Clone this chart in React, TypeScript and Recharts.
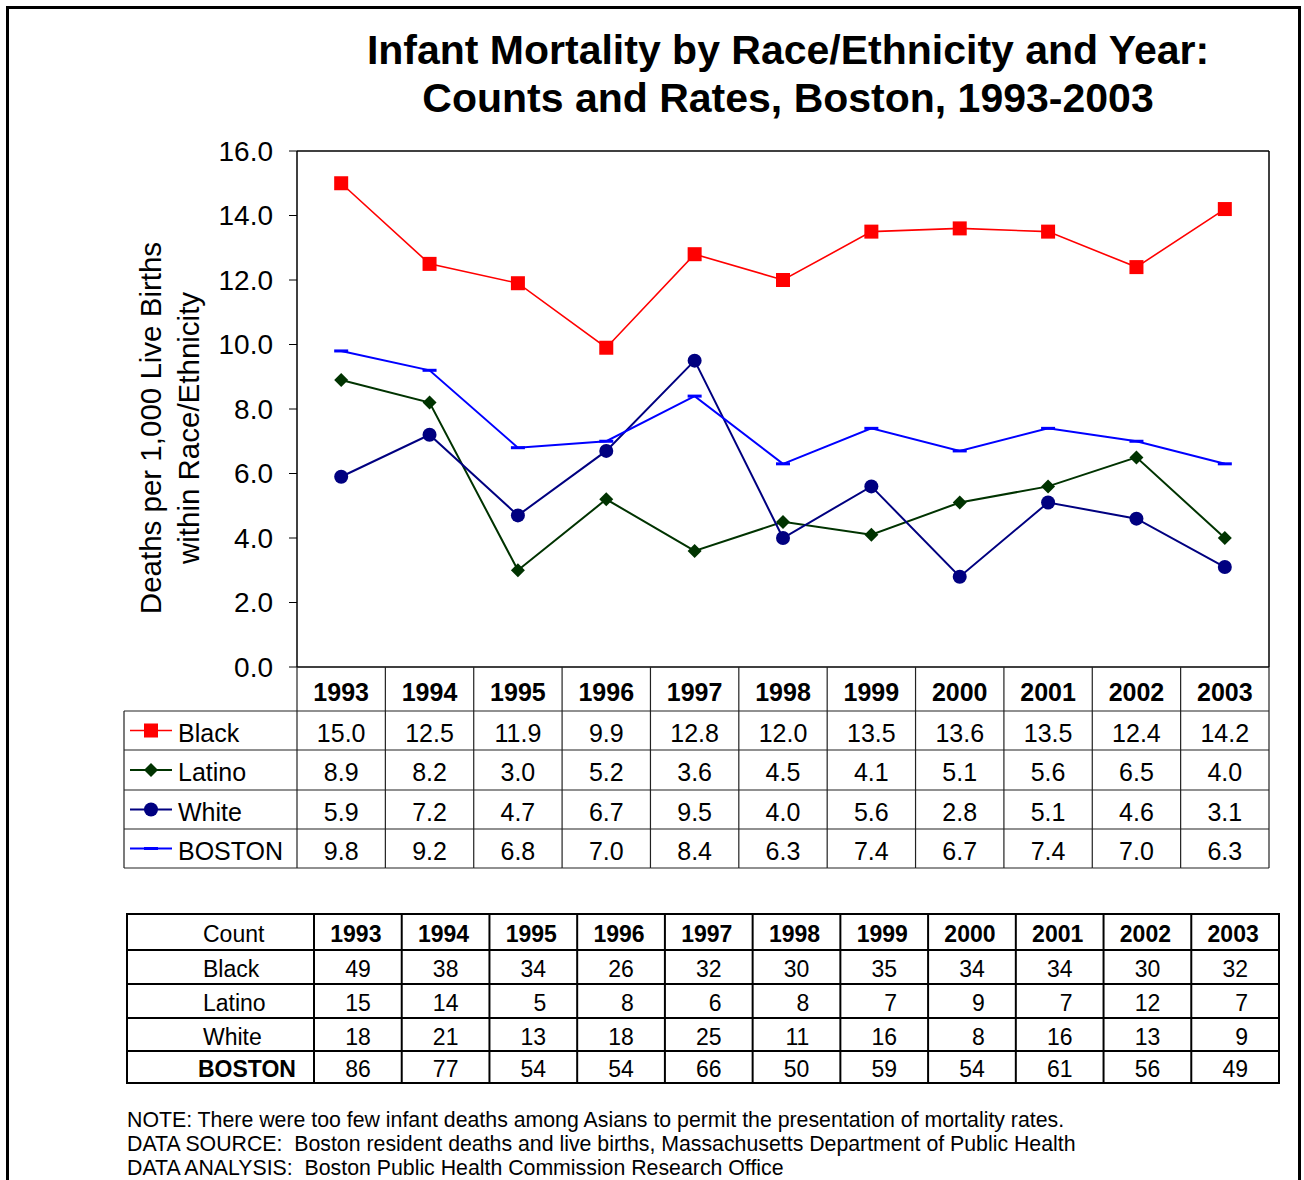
import React from "react"
import { LineChart, Line, XAxis, YAxis } from "recharts"

const years = ["1993", "1994", "1995", "1996", "1997", "1998", "1999", "2000", "2001", "2002", "2003"]
const blackRate = [15.0, 12.5, 11.9, 9.9, 12.8, 12.0, 13.5, 13.6, 13.5, 12.4, 14.2]
const latinoRate = [8.9, 8.2, 3.0, 5.2, 3.6, 4.5, 4.1, 5.1, 5.6, 6.5, 4.0]
const whiteRate = [5.9, 7.2, 4.7, 6.7, 9.5, 4.0, 5.6, 2.8, 5.1, 4.6, 3.1]
const bostonRate = [9.8, 9.2, 6.8, 7.0, 8.4, 6.3, 7.4, 6.7, 7.4, 7.0, 6.3]

const blackCount = [49, 38, 34, 26, 32, 30, 35, 34, 34, 30, 32]
const latinoCount = [15, 14, 5, 8, 6, 8, 7, 9, 7, 12, 7]
const whiteCount = [18, 21, 13, 18, 25, 11, 16, 8, 16, 13, 9]
const bostonCount = [86, 77, 54, 54, 66, 50, 59, 54, 61, 56, 49]

const yTicks = [0, 2, 4, 6, 8, 10, 12, 14, 16]

const notes = [
  "NOTE: There were too few infant deaths among Asians to permit the presentation of mortality rates.",
  "DATA SOURCE:  Boston resident deaths and live births, Massachusetts Department of Public Health",
  "DATA ANALYSIS:  Boston Public Health Commission Research Office",
]

const FONT = "Arial, 'Liberation Sans', Helvetica, sans-serif"

// plot box
const PLOT_L = 297
const PLOT_R = 1269
const PLOT_T = 151
const PLOT_B = 667
const BW = (PLOT_R - PLOT_L) / years.length
const ROWS = [711, 750, 790, 829, 868]

const series = [
  { key: "black", name: "Black", values: blackRate, color: "#FF0000", width: 1.6, shape: "square" },
  { key: "latino", name: "Latino", values: latinoRate, color: "#003300", width: 2, shape: "diamond" },
  { key: "white", name: "White", values: whiteRate, color: "#000080", width: 2, shape: "circle" },
  { key: "boston", name: "BOSTON", values: bostonRate, color: "#0000FF", width: 2, shape: "dash" },
]

const data = years.map((year, i) => ({
  year,
  black: blackRate[i],
  latino: latinoRate[i],
  white: whiteRate[i],
  boston: bostonRate[i],
}))

const counts = [
  { name: "Black", values: blackCount, bold: false },
  { name: "Latino", values: latinoCount, bold: false },
  { name: "White", values: whiteCount, bold: false },
  { name: "BOSTON", values: bostonCount, bold: true },
]

function Marker({ shape, cx, cy, color }: { shape: string; cx: number; cy: number; color: string }) {
  if (shape === "square") return <rect x={cx - 7} y={cy - 7} width={14} height={14} fill={color} />
  if (shape === "diamond")
    return <polygon points={`${cx},${cy - 7} ${cx + 7},${cy} ${cx},${cy + 7} ${cx - 7},${cy}`} fill={color} />
  if (shape === "circle") return <circle cx={cx} cy={cy} r={7} fill={color} />
  return <rect x={cx - 7} y={cy - 1.5} width={14} height={3} fill={color} />
}

const makeDot = (shape: string, color: string) => (p: any) => {
  if (p.cx == null || p.cy == null) return <g key={p.index} />
  return (
    <g key={p.index}>
      <Marker shape={shape} cx={p.cx} cy={p.cy} color={color} />
    </g>
  )
}

// each x tick draws one column of the rate table
const TableTick = (props: any) => {
  const { x, payload } = props
  const i = years.indexOf(payload.value)
  const left = x - BW / 2
  const right = x + BW / 2
  const line = "#222"
  return (
    <g fontFamily={FONT}>
      <line x1={left} y1={PLOT_B} x2={left} y2={ROWS[4]} stroke={line} strokeWidth={1.2} />
      {i === years.length - 1 && (
        <line x1={right} y1={PLOT_B} x2={right} y2={ROWS[4]} stroke={line} strokeWidth={1.2} />
      )}
      {ROWS.map((ry) => (
        <line key={ry} x1={left} y1={ry} x2={right} y2={ry} stroke={line} strokeWidth={1.2} />
      ))}
      <text x={x} y={(PLOT_B + ROWS[0]) / 2 + 3} textAnchor="middle" dominantBaseline="central" fontSize={25} fontWeight="bold" fill="#000">
        {payload.value}
      </text>
      {series.map((s, r) => (
        <text key={s.key} x={x} y={(ROWS[r] + ROWS[r + 1]) / 2 + 2} textAnchor="middle" dominantBaseline="central" fontSize={25} fill="#000">
          {s.values[i].toFixed(1)}
        </text>
      ))}
    </g>
  )
}

// count table geometry
const CT_L = 127
const CT_FIRST = 314
const CT_R = 1279
const CT_ROWS = [914, 950, 984, 1018, 1051, 1083]
const CT_W = (CT_R - CT_FIRST) / years.length

function CountTable() {
  return (
    <g fontFamily={FONT} fontSize={23} fill="#000">
      <rect x={CT_L} y={CT_ROWS[0]} width={CT_R - CT_L} height={CT_ROWS[5] - CT_ROWS[0]} fill="none" stroke="#000" strokeWidth={2} />
      {CT_ROWS.slice(1, 5).map((ry) => (
        <line key={ry} x1={CT_L} y1={ry} x2={CT_R} y2={ry} stroke="#000" strokeWidth={2} />
      ))}
      {years.map((y, i) => (
        <line key={y} x1={CT_FIRST + i * CT_W} y1={CT_ROWS[0]} x2={CT_FIRST + i * CT_W} y2={CT_ROWS[5]} stroke="#000" strokeWidth={2} />
      ))}
      <text x={203} y={(CT_ROWS[0] + CT_ROWS[1]) / 2 + 2} dominantBaseline="central">Count</text>
      {years.map((y, i) => (
        <text key={y} x={CT_FIRST + (i + 0.5) * CT_W - 2} y={(CT_ROWS[0] + CT_ROWS[1]) / 2 + 2} textAnchor="middle" dominantBaseline="central" fontWeight="bold">
          {y}
        </text>
      ))}
      {counts.map((c, r) => {
        const cy = (CT_ROWS[r + 1] + CT_ROWS[r + 2]) / 2 + 2
        return (
          <g key={c.name}>
            <text x={c.bold ? 198 : 203} y={cy} dominantBaseline="central" fontWeight={c.bold ? "bold" : "normal"}>
              {c.name}
            </text>
            {c.values.map((v, i) => (
              <text key={i} x={CT_FIRST + (i + 1) * CT_W - 31} y={cy} textAnchor="end" dominantBaseline="central">
                {v}
              </text>
            ))}
          </g>
        )
      })}
    </g>
  )
}

export default function App() {
  return (
    <div style={{ position: "absolute", left: 0, top: 0, width: 1304, height: 1180, background: "#fff", overflow: "hidden" }}>
      <div style={{ position: "absolute", left: 6, top: 6, width: 1289, height: 1200, border: "3px solid #000" }} />
      <div style={{ position: "absolute", left: 0, top: 0 }}>
        <LineChart width={1304} height={880} data={data} margin={{ top: PLOT_T, right: 1304 - PLOT_R, left: 0, bottom: 880 - ROWS[4] }}>
          <XAxis
            dataKey="year"
            interval={0}
            padding={{ left: BW / 2, right: BW / 2 }}
            height={ROWS[4] - PLOT_B}
            tickLine={false}
            tickSize={0}
            tickMargin={0}
            axisLine={{ stroke: "#000", strokeWidth: 1.5 }}
            tick={<TableTick />}
          />
          <YAxis
            width={PLOT_L}
            domain={[0, 16]}
            ticks={yTicks}
            interval={0}
            tickFormatter={(v: number) => v.toFixed(1)}
            tickSize={8}
            tickMargin={16}
            axisLine={{ stroke: "#000", strokeWidth: 1.5 }}
            tickLine={{ stroke: "#000" }}
            tick={{ fill: "#000", fontSize: 28, fontFamily: FONT }}
          />
          {series.map((s) => (
            <Line
              key={s.key}
              type="linear"
              dataKey={s.key}
              name={s.name}
              stroke={s.color}
              strokeWidth={s.width}
              dot={makeDot(s.shape, s.color)}
              activeDot={false}
              isAnimationActive={false}
            />
          ))}
        </LineChart>
      </div>
      <svg width={1304} height={1180} style={{ position: "absolute", left: 0, top: 0, pointerEvents: "none" }}>
        <g fontFamily={FONT} fontWeight="bold" fontSize={41} textAnchor="middle" fill="#000">
          <text x={788} y={64}>Infant Mortality by Race/Ethnicity and Year:</text>
          <text x={788} y={112}>Counts and Rates, Boston, 1993-2003</text>
        </g>
        <g fontFamily={FONT} fontSize={29.5} textAnchor="middle" fill="#000">
          <text transform="translate(150,428) rotate(-90)" dominantBaseline="central">Deaths per 1,000 Live Births</text>
          <text transform="translate(188,428) rotate(-90)" dominantBaseline="central">within Race/Ethnicity</text>
        </g>
        <line x1={PLOT_L} y1={PLOT_T} x2={PLOT_R} y2={PLOT_T} stroke="#000" strokeWidth={1.5} />
        <line x1={PLOT_R} y1={PLOT_T} x2={PLOT_R} y2={PLOT_B} stroke="#000" strokeWidth={1.5} />
        <g fontFamily={FONT} fontSize={25} fill="#000">
          <line x1={124} y1={ROWS[0]} x2={124} y2={ROWS[4]} stroke="#222" strokeWidth={1.2} />
          {ROWS.map((ry) => (
            <line key={ry} x1={124} y1={ry} x2={PLOT_L} y2={ry} stroke="#222" strokeWidth={1.2} />
          ))}
          {series.map((s, r) => {
            const cy = (ROWS[r] + ROWS[r + 1]) / 2
            return (
              <g key={s.key}>
                <line x1={130} y1={cy} x2={172} y2={cy} stroke={s.color} strokeWidth={s.width} />
                <Marker shape={s.shape} cx={151} cy={cy} color={s.color} />
                <text x={178} y={cy + 2} dominantBaseline="central">{s.name}</text>
              </g>
            )
          })}
        </g>
        <CountTable />
        <g fontFamily={FONT} fontSize={21.3} fill="#000" style={{ whiteSpace: "pre" }}>
          {notes.map((n, i) => (
            <text key={i} x={127} y={1127 + i * 24} xmlSpace="preserve">{n}</text>
          ))}
        </g>
      </svg>
    </div>
  )
}
